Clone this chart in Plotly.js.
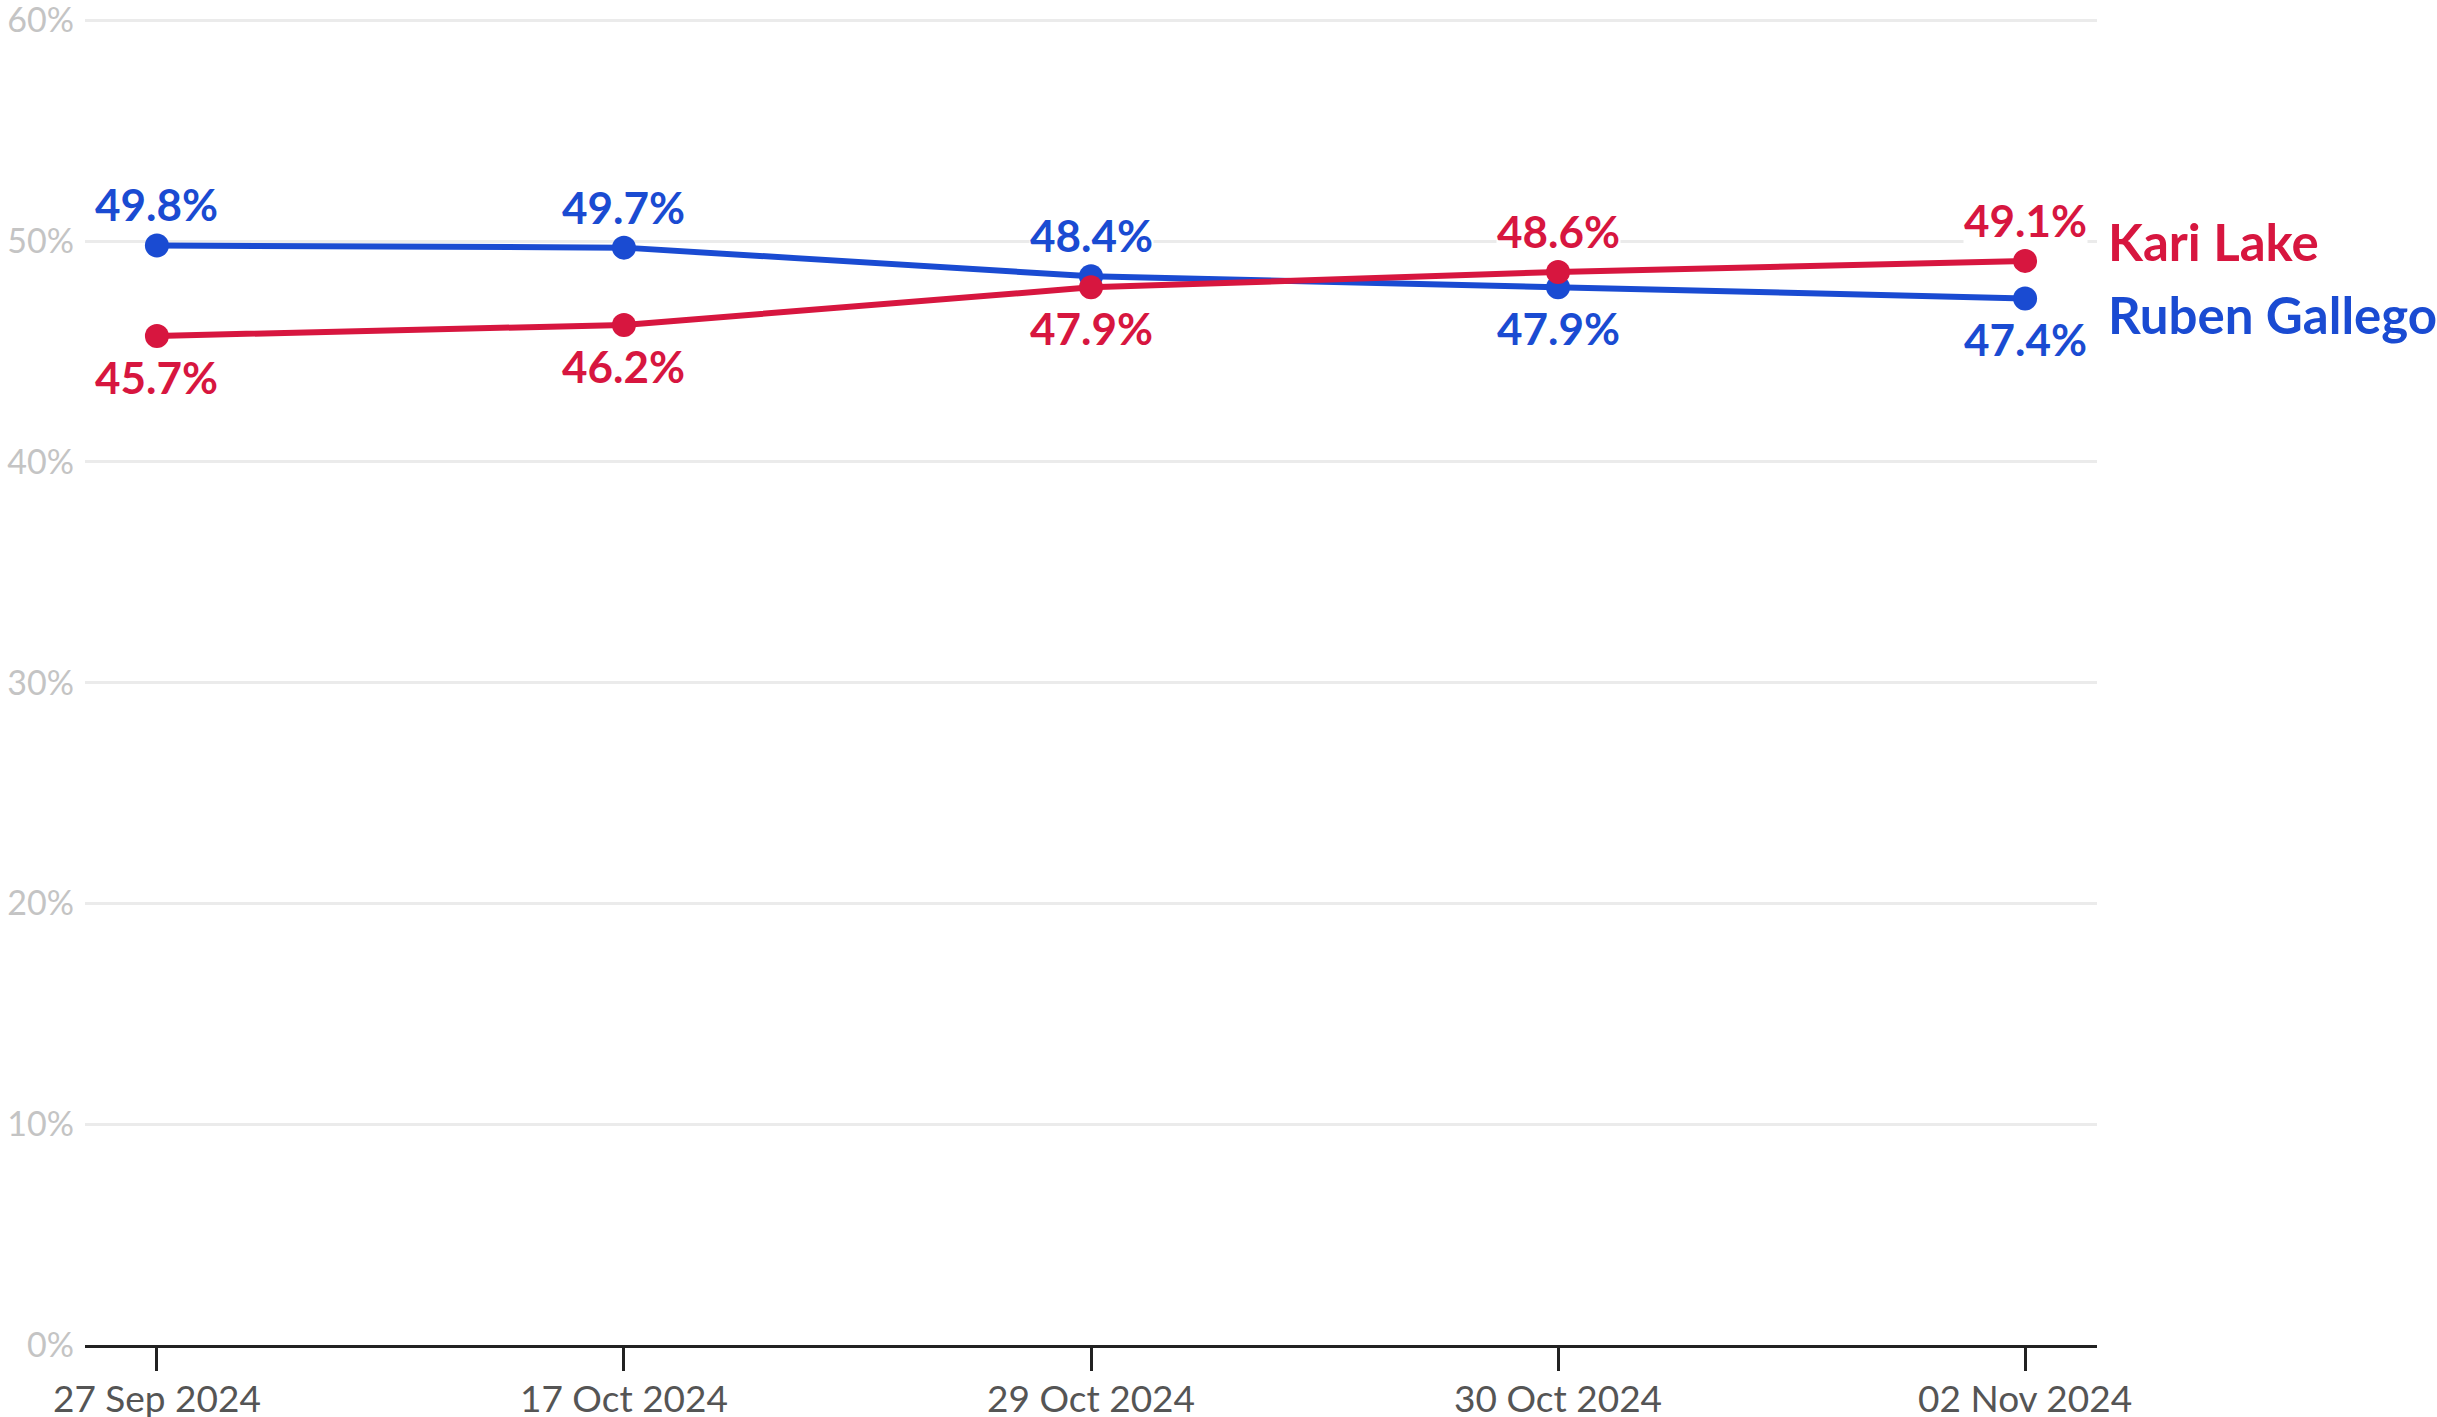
<!DOCTYPE html>
<html>
<head>
<meta charset="utf-8">
<script src="https://cdn.plot.ly/plotly-3.0.1.min.js"></script>
<style>
html,body{margin:0;padding:0;background:#fff;}
#chart{width:2437px;height:1417px;}
</style>
</head>
<body>
<div id="chart"></div>
<script>
const dates = ["27 Sep 2024", "17 Oct 2024", "29 Oct 2024", "30 Oct 2024", "02 Nov 2024"];
const gallego = [49.8, 49.7, 48.4, 47.9, 47.4];
const lake = [45.7, 46.2, 47.9, 48.6, 49.1];
// +1 = label above the point, -1 = label below
const gallegoSide = [1, 1, 1, -1, -1];
const lakeSide = [-1, -1, -1, 1, 1];
const yTicks = [0, 10, 20, 30, 40, 50, 60];

const BLUE = "#1a4bd2";
const RED = "#d7163f";
const FONT = "Lato, 'Open Sans', sans-serif";

const fmt = v => v.toFixed(1) + "%";

const traces = [
  {
    x: dates, y: gallego, type: "scatter", mode: "lines+markers",
    name: "Ruben Gallego",
    line: {color: BLUE, width: 6},
    marker: {color: BLUE, size: 24},
    cliponaxis: false, hoverinfo: "skip"
  },
  {
    x: dates, y: lake, type: "scatter", mode: "lines+markers",
    name: "Kari Lake",
    line: {color: RED, width: 6},
    marker: {color: RED, size: 24},
    cliponaxis: false, hoverinfo: "skip"
  }
];

function pointLabels(vals, sides, color) {
  return vals.map((v, i) => ({
    x: dates[i], y: v, xref: "x", yref: "y",
    text: fmt(v), showarrow: false,
    xanchor: "center", yanchor: "middle",
    yshift: sides[i] * 41,
    bgcolor: "#fff", borderpad: 0,
    font: {family: FONT, size: 44, color: color, weight: 700}
  }));
}

const last = dates.length - 1;
const layout = {
  width: 2437, height: 1417,
  margin: {l: 85, r: 340, t: 18, b: 72},
  paper_bgcolor: "#fff", plot_bgcolor: "#fff",
  showlegend: false,
  font: {family: FONT},
  xaxis: {
    type: "category",
    range: [-0.154, 4.154],
    showgrid: false,
    showline: true, linecolor: "#222", linewidth: 3,
    ticks: "outside", ticklen: 23, tickwidth: 3, tickcolor: "#222",
    tickfont: {family: FONT, size: 37, color: "#555"},
    ticklabelstandoff: -3,
    ticklabeloverflow: "allow",
    zeroline: false, fixedrange: true
  },
  yaxis: {
    range: [0, 60.1],
    tickvals: yTicks,
    ticktext: yTicks.map(v => v + "%"),
    showgrid: true, gridcolor: "#ebebeb", gridwidth: 3,
    zeroline: false, showline: false, ticks: "",
    tickfont: {family: FONT, size: 34, color: "#c4c4c4"},
    ticklabelstandoff: 10,
    ticklabeloverflow: "allow",
    fixedrange: true
  },
  annotations: pointLabels(gallego, gallegoSide, BLUE)
    .concat(pointLabels(lake, lakeSide, RED))
    .concat([
      {x: dates[last], y: lake[last], xref: "x", yref: "y", text: "Kari Lake",
       showarrow: false, xanchor: "left", yanchor: "middle", xshift: 81, yshift: 19,
       font: {family: FONT, size: 51, color: RED, weight: 700}},
      {x: dates[last], y: gallego[last], xref: "x", yref: "y", text: "Ruben Gallego",
       showarrow: false, xanchor: "left", yanchor: "middle", xshift: 81, yshift: -16,
       font: {family: FONT, size: 51, color: BLUE, weight: 700}}
    ])
};

Plotly.newPlot("chart", traces, layout, {displayModeBar: false, staticPlot: true});
</script>
</body>
</html>
